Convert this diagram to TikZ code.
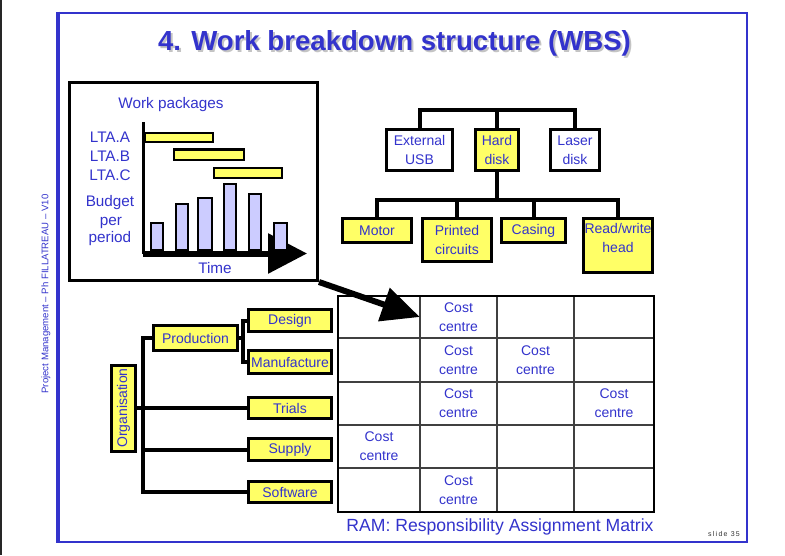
\documentclass[tikz,border=0pt]{standalone}
\usepackage{fontspec}
\setmainfont{Liberation Sans}
\newfontfamily\slidefont[LetterSpace=18]{Liberation Sans}
\usetikzlibrary{arrows.meta,calc}
\definecolor{txtblue}{HTML}{3333CC}
\definecolor{boxyellow}{HTML}{FFFF66}
\definecolor{barlav}{HTML}{CCCCFF}
\definecolor{shadowgray}{HTML}{C4C4C4}
\begin{document}
\begin{tikzpicture}[x=1pt,y=-1pt,
  txt/.style={text=txtblue, inner sep=0pt, align=center, font=\fontsize{14}{19}\selectfont},
  ybox/.style={txt, draw=black, line width=3pt, fill=boxyellow},
  wbox/.style={ybox, fill=white},
  conn/.style={line width=4pt, black},
  gbar/.style={draw=black, line width=2.5pt, fill=boxyellow},
  bbar/.style={draw=black, line width=2.5pt, fill=barlav},
  gridline/.style={line width=1.5pt, black!75},
  cell/.style={txt, minimum width=77pt, minimum height=42pt},
  wplabel/.style={txt, font=\fontsize{15.3}{18}\selectfont},
  bigarrow/.style={line width=6pt, black},
  titlefont/.style={font=\bfseries\fontsize{27.6}{32}\selectfont, inner sep=0pt},
]
\useasboundingbox (0,0) rectangle (785,555);
\fill[white] (0,0) rectangle (785,555);
\draw[line width=1.5pt, black!85] (0.75,0) -- (0.75,555);
% frame
\draw[line width=2pt, txtblue] (57.5,12.5) rectangle (747,542);
\draw[line width=4pt, txtblue] (58,11.5) -- (58,543);
% title
\node[titlefont, text=shadowgray] (titleshadow) at (396.5,45.5) {4. Work breakdown structure (WBS)};
\node[titlefont, text=txtblue] (title) at (394.5,43.5) {4. Work breakdown structure (WBS)};
% side text
\node[rotate=90, text=txtblue, font=\fontsize{9.6}{11}\selectfont, inner sep=0pt] (side) at (46,294) {Project Management – Ph FILLATREAU – V10};

% work packages box
\node[draw, line width=3pt, minimum width=248pt, minimum height=198pt, inner sep=0pt] (wp) at (193.5,181.5) {};
\node[wplabel] (wptitle) at (171,105) {Work packages};
\node[wplabel] (la) at (110,137) {LTA.A};
\node[wplabel] (lb) at (110,156) {LTA.B};
\node[wplabel] (lc) at (110,175) {LTA.C};
\node[wplabel] (lbud) at (110,203) {Budget};
\node[wplabel] (lper) at (111,223) {per};
\node[wplabel] (lperiod) at (110,239) {period};
\node[wplabel] (ltime) at (215,268) {Time};
% axes
\coordinate (ax0) at (143,253.5);
\coordinate (axend) at (307,253.5);
\coordinate (axtop) at (143,122);
\draw[bigarrow, -{Triangle[length=39pt,width=39pt]}] (ax0) -- (axend);
\draw[line width=3pt] (axtop) -- (ax0);
% budget bars
\draw[bbar] (151,250) rectangle (163,223);
\draw[bbar] (176,250) rectangle (188,204);
\draw[bbar] (198,250) rectangle (212,198);
\draw[bbar] (224,250) rectangle (236,184);
\draw[bbar] (249,250) rectangle (261,194);
\draw[bbar] (274,250) rectangle (287,223);
% gantt bars
\draw[gbar] (144.5,133) rectangle (213,142);
\draw[gbar] (174,149.5) rectangle (244,160);
\draw[gbar] (214,168) rectangle (282,178);

% product tree
\node[wbox, minimum width=66pt, minimum height=41pt] (usb) at (419.5,150) {External\\USB};
\node[ybox, minimum width=43pt, minimum height=41pt] (hd) at (497,150) {Hard\\disk};
\node[wbox, minimum width=49pt, minimum height=41pt] (laser) at (575,150) {Laser\\disk};
\node[ybox, minimum width=69pt, minimum height=24pt] (motor) at (377,230.5) {Motor};
\node[ybox, minimum width=69pt, minimum height=43pt] (printed) at (457,240) {Printed\\circuits};
\node[ybox, minimum width=64pt, minimum height=24pt] (casing) at (533.5,230.5) {Casing};
\node[ybox, minimum width=69pt, minimum height=54pt] (rw) at (618,245.5) {};
\node[txt] (rwtext) at (618,238) {Read/write\\head};
\coordinate (tbar) at (497,110);
\coordinate (lbar) at (497,200);
\draw[conn] (usb.north) |- (tbar) -| (laser.north);
\draw[conn] (hd.north) -- (hd.north |- tbar);
\draw[conn] (hd.south) -- (hd.south |- lbar);
\draw[conn] (motor.north) |- (lbar) -| (rw.north);
\draw[conn] (printed.north) -- (printed.north |- lbar);
\draw[conn] (casing.north) -- (casing.north |- lbar);

% organisation tree
\node[ybox, rotate=90, minimum width=86pt, minimum height=24pt] (org) at (123.5,408) {Organisation};
\node[ybox, minimum width=84pt, minimum height=25pt] (prod) at (195.5,338) {Production};
\node[ybox, minimum width=83pt, minimum height=22pt] (design) at (290,320.5) {Design};
\node[ybox, minimum width=83pt, minimum height=23pt] (manu) at (290,362) {Manufacture};
\node[ybox, minimum width=83pt, minimum height=21pt] (trials) at (290,408) {Trials};
\node[ybox, minimum width=83pt, minimum height=22pt] (supply) at (290,449.5) {Supply};
\node[ybox, minimum width=83pt, minimum height=21pt] (soft) at (290,492) {Software};
\coordinate (tk) at (143,0);
\coordinate (pk) at (243,0);
\draw[conn] (org.south) -- (trials.west);
\draw[conn] (prod.west) -| (tk |- soft.west) -- (soft.west);
\draw[conn] (supply.west) -- (supply.west -| tk);
\draw[conn] (prod.east) -- (prod.east -| pk);
\draw[conn] (design.west) -| (pk |- manu.west) -- (manu.west);

% RAM matrix
\foreach \cx in {420,497,574} \draw[gridline] (\cx,296) -- (\cx,512);
\foreach \ry in {338,382,425,468} \draw[gridline] (338,\ry) -- (654,\ry);
\draw[line width=2pt, black] (338,296) rectangle (654,512);
\node[cell] (c12) at (458.5,317) {Cost\\centre};
\node[cell] (c22) at (458.5,360) {Cost\\centre};
\node[cell] (c23) at (535.5,360) {Cost\\centre};
\node[cell] (c32) at (458.5,403.5) {Cost\\centre};
\node[cell] (c34) at (614,403.5) {Cost\\centre};
\node[cell] (c41) at (379,446.5) {Cost\\centre};
\node[cell] (c52) at (458.5,490) {Cost\\centre};
\draw[bigarrow, -{Triangle[length=38pt,width=34pt]}] (wp.south east) -- (c12.west);
\node[txt, font=\fontsize{17.6}{20}\selectfont] (ram) at (500,527) {RAM: Responsibility Assignment Matrix};
\node[font=\fontsize{7}{8}\slidefont, text=black!80, inner sep=0pt] (slide) at (724,534) {slide 35};
\end{tikzpicture}
\end{document}
